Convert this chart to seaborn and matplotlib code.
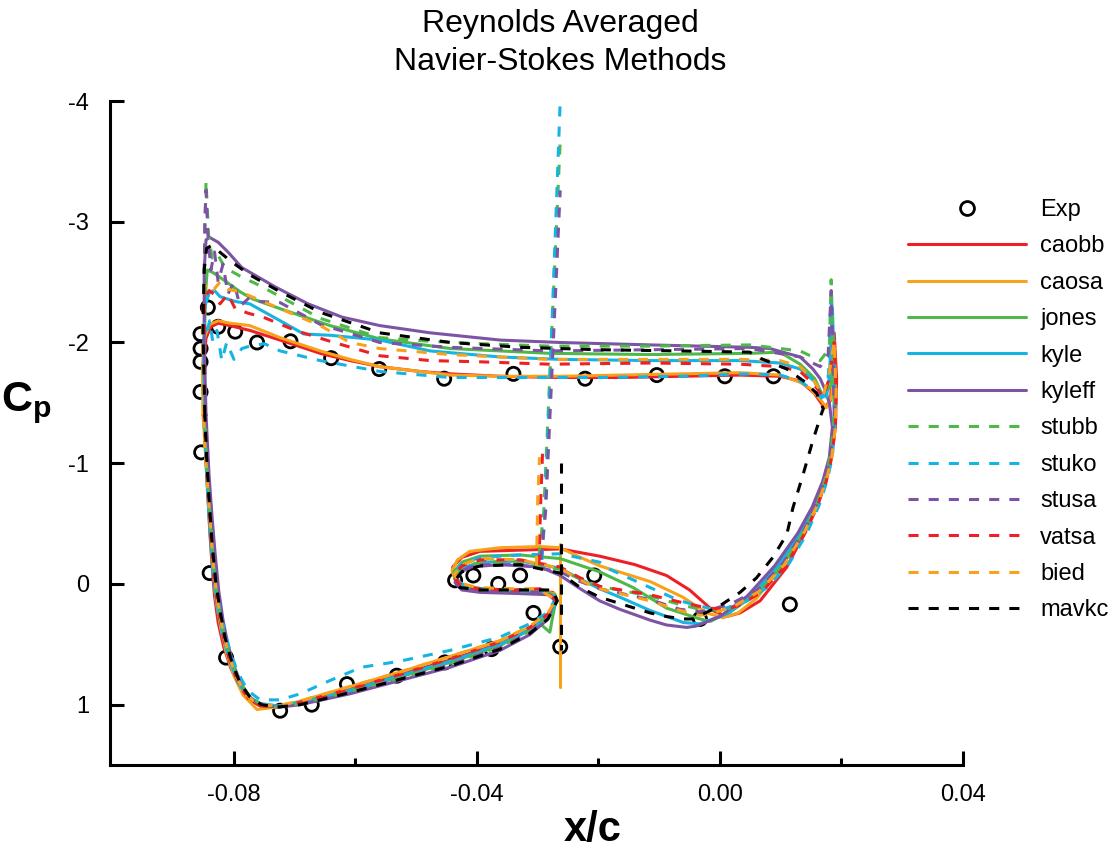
import matplotlib
matplotlib.use('Agg')
import matplotlib.pyplot as plt
from matplotlib.lines import Line2D
from matplotlib import font_manager
import pandas as pd
import seaborn as sns

# --- DATA: (x/c, Cp) pairs ---
exp_pts = [(-0.0843, -2.29), (-0.0855, -2.07), (-0.0855, -1.95), (-0.0855, -1.84), (-0.0855, -1.59),
           (-0.0826, -2.13), (-0.0798, -2.09), (-0.0762, -2.00), (-0.0707, -2.01), (-0.0640, -1.87),
           (-0.0561, -1.78), (-0.0454, -1.70), (-0.0340, -1.74), (-0.0222, -1.70), (-0.0104, -1.73),
           (0.0008, -1.72), (0.0088, -1.72), (-0.0854, -1.09), (-0.0840, -0.09), (-0.0813, 0.61),
           (-0.0724, 1.05), (-0.0672, 1.00), (-0.0614, 0.83), (-0.0532, 0.76), (-0.0453, 0.65),
           (-0.0376, 0.54), (-0.0263, 0.52), (-0.0307, 0.24), (-0.0436, -0.03), (-0.0406, -0.07),
           (-0.0365, 0.00), (-0.0329, -0.07), (-0.0207, -0.07), (-0.0033, 0.29), (0.0115, 0.17)]

caobb = [(-0.0849, -1.40), (-0.0850, -1.80), (-0.0846, -2.04), (-0.0838, -2.13), (-0.0826, -2.16),
         (-0.0807, -2.14), (-0.0774, -2.10), (-0.0724, -2.02), (-0.0658, -1.91), (-0.0609, -1.85),
         (-0.0560, -1.80), (-0.0494, -1.76), (-0.0444, -1.74), (-0.0362, -1.72), (-0.0263, -1.71),
         (-0.0165, -1.71), (-0.0066, -1.72), (0.0033, -1.73), (0.0099, -1.72), (0.0132, -1.68),
         (0.0155, -1.58), (0.0172, -1.46), (0.0182, -1.52), (0.0188, -2.08), (0.0192, -1.70),
         (0.0190, -1.30), (0.0183, -1.05), (0.0173, -0.85), (0.0159, -0.66), (0.0140, -0.43),
         (0.0110, -0.14), (0.0066, 0.14), (0.0033, 0.24), (0.0011, 0.27), (-0.0012, 0.22),
         (-0.0050, 0.05), (-0.0088, -0.07), (-0.0140, -0.16), (-0.0198, -0.23), (-0.0263, -0.29),
         (-0.0329, -0.28), (-0.0395, -0.27), (-0.0425, -0.22), (-0.0440, -0.14), (-0.0436, -0.05),
         (-0.0420, 0.02), (-0.0379, 0.05), (-0.0313, 0.06), (-0.0275, 0.07), (-0.0268, 0.14),
         (-0.0283, 0.26), (-0.0313, 0.37), (-0.0362, 0.49), (-0.0444, 0.63), (-0.0527, 0.75),
         (-0.0609, 0.87), (-0.0691, 0.99), (-0.0728, 1.02), (-0.0757, 1.01), (-0.0775, 0.96),
         (-0.0790, 0.86), (-0.0805, 0.70), (-0.0817, 0.52), (-0.0826, 0.32), (-0.0832, 0.10),
         (-0.0836, -0.15), (-0.0840, -0.45), (-0.0843, -0.75), (-0.0846, -1.05), (-0.0849, -1.40)]

caosa = [(-0.0851, -1.40), (-0.0852, -1.80), (-0.0848, -2.05), (-0.0840, -2.15), (-0.0826, -2.18),
         (-0.0807, -2.16), (-0.0774, -2.14), (-0.0724, -2.04), (-0.0658, -1.93), (-0.0609, -1.86),
         (-0.0560, -1.80), (-0.0494, -1.76), (-0.0444, -1.73), (-0.0362, -1.72), (-0.0263, -1.72),
         (-0.0165, -1.73), (-0.0066, -1.74), (0.0033, -1.75), (0.0099, -1.73), (0.0132, -1.67),
         (0.0148, -1.62), (0.0165, -1.53), (0.0175, -1.46), (0.0184, -1.55), (0.0188, -2.01),
         (0.0190, -1.60), (0.0188, -1.30), (0.0183, -1.05), (0.0173, -0.86), (0.0157, -0.66),
         (0.0135, -0.43), (0.0104, -0.16), (0.0060, 0.12), (0.0030, 0.24), (0.0005, 0.28),
         (-0.0022, 0.24), (-0.0061, 0.11), (-0.0115, -0.02), (-0.0198, -0.15), (-0.0230, -0.22),
         (-0.0263, -0.30), (-0.0296, -0.31), (-0.0362, -0.30), (-0.0412, -0.27), (-0.0432, -0.20),
         (-0.0441, -0.11), (-0.0436, -0.03), (-0.0415, 0.03), (-0.0362, 0.05), (-0.0296, 0.06),
         (-0.0272, 0.08), (-0.0268, 0.14), (-0.0283, 0.25), (-0.0313, 0.36), (-0.0362, 0.47),
         (-0.0444, 0.60), (-0.0527, 0.73), (-0.0609, 0.85), (-0.0691, 0.97), (-0.0730, 1.02),
         (-0.0762, 1.04), (-0.0785, 0.92), (-0.0800, 0.76), (-0.0812, 0.58), (-0.0822, 0.36),
         (-0.0830, 0.12), (-0.0835, -0.15), (-0.0839, -0.45), (-0.0843, -0.80), (-0.0847, -1.10),
         (-0.0851, -1.40)]
caosa_link = [(-0.0263, -0.33), (-0.0263, 0.85)]

jones = [(-0.0848, -1.40), (-0.0849, -1.90), (-0.0847, -2.40), (-0.0844, -2.60), (-0.0835, -2.58),
         (-0.0823, -2.54), (-0.0790, -2.42), (-0.0769, -2.36), (-0.0724, -2.28), (-0.0642, -2.14),
         (-0.0560, -2.03), (-0.0444, -1.95), (-0.0280, -1.91), (-0.0115, -1.90), (0.0049, -1.91),
         (0.0099, -1.92), (0.0112, -1.88), (0.0132, -1.82), (0.0156, -1.70), (0.0170, -1.55),
         (0.0183, -1.65), (0.0188, -1.85), (0.0190, -1.50), (0.0188, -1.25), (0.0181, -1.02),
         (0.0170, -0.84), (0.0155, -0.65), (0.0134, -0.44), (0.0100, -0.17), (0.0060, 0.08),
         (0.0020, 0.22), (-0.0016, 0.31), (-0.0033, 0.29), (-0.0088, 0.20), (-0.0143, 0.03),
         (-0.0198, -0.10), (-0.0263, -0.21), (-0.0329, -0.24), (-0.0395, -0.23), (-0.0425, -0.18),
         (-0.0438, -0.10), (-0.0434, -0.02), (-0.0412, 0.03), (-0.0362, 0.05), (-0.0296, 0.06),
         (-0.0272, 0.09), (-0.0270, 0.14), (-0.0275, 0.26), (-0.0280, 0.40), (-0.0296, 0.33),
         (-0.0313, 0.38), (-0.0362, 0.51), (-0.0444, 0.65), (-0.0527, 0.77), (-0.0609, 0.89),
         (-0.0691, 0.99), (-0.0728, 1.02), (-0.0755, 1.00), (-0.0775, 0.94), (-0.0790, 0.82),
         (-0.0803, 0.66), (-0.0815, 0.46), (-0.0824, 0.24), (-0.0831, 0.00), (-0.0836, -0.30),
         (-0.0841, -0.65), (-0.0845, -1.00), (-0.0848, -1.40)]

kyle = [(-0.0848, -1.40), (-0.0850, -1.90), (-0.0848, -2.30), (-0.0840, -2.42), (-0.0832, -2.43),
        (-0.0823, -2.38), (-0.0798, -2.34), (-0.0774, -2.32), (-0.0724, -2.18), (-0.0685, -2.07),
        (-0.0642, -2.06), (-0.0560, -2.02), (-0.0477, -1.93), (-0.0362, -1.88), (-0.0263, -1.86),
        (-0.0115, -1.85), (0.0033, -1.85), (0.0099, -1.83), (0.0132, -1.78), (0.0155, -1.68),
        (0.0170, -1.55), (0.0180, -1.70), (0.0185, -2.29), (0.0188, -1.80), (0.0189, -1.30),
        (0.0182, -1.05), (0.0171, -0.85), (0.0155, -0.64), (0.0132, -0.42), (0.0095, -0.15),
        (0.0055, 0.08), (0.0015, 0.24), (-0.0033, 0.33), (-0.0060, 0.32), (-0.0115, 0.22),
        (-0.0160, 0.12), (-0.0198, 0.04), (-0.0230, -0.04), (-0.0263, -0.13), (-0.0329, -0.19),
        (-0.0395, -0.18), (-0.0425, -0.13), (-0.0436, -0.06), (-0.0430, 0.01), (-0.0405, 0.05),
        (-0.0362, 0.06), (-0.0296, 0.07), (-0.0272, 0.10), (-0.0268, 0.14), (-0.0280, 0.25),
        (-0.0313, 0.38), (-0.0362, 0.50), (-0.0444, 0.64), (-0.0527, 0.76), (-0.0609, 0.88),
        (-0.0691, 0.98), (-0.0728, 1.01), (-0.0757, 0.99), (-0.0777, 0.93), (-0.0793, 0.82),
        (-0.0807, 0.64), (-0.0818, 0.44), (-0.0827, 0.20), (-0.0834, -0.05), (-0.0839, -0.40),
        (-0.0844, -0.80), (-0.0847, -1.10), (-0.0848, -1.40)]

kyleff = [(-0.0846, -1.40), (-0.0849, -2.00), (-0.0849, -2.60), (-0.0846, -2.85), (-0.0840, -2.87),
          (-0.0826, -2.83), (-0.0810, -2.75), (-0.0787, -2.62), (-0.0732, -2.46), (-0.0678, -2.32),
          (-0.0622, -2.21), (-0.0560, -2.14), (-0.0477, -2.08), (-0.0362, -2.02), (-0.0263, -2.00),
          (-0.0115, -1.98), (0.0049, -1.96), (0.0082, -1.95), (0.0132, -1.88), (0.0153, -1.78),
          (0.0165, -1.70), (0.0172, -1.62), (0.0180, -1.50), (0.0185, -1.30), (0.0180, -1.05),
          (0.0169, -0.85), (0.0152, -0.64), (0.0128, -0.42), (0.0090, -0.15), (0.0045, 0.10),
          (0.0000, 0.27), (-0.0040, 0.35), (-0.0055, 0.36), (-0.0088, 0.34), (-0.0115, 0.30),
          (-0.0165, 0.21), (-0.0198, 0.14), (-0.0230, 0.04), (-0.0263, -0.07), (-0.0296, -0.14),
          (-0.0362, -0.16), (-0.0412, -0.14), (-0.0432, -0.08), (-0.0436, -0.01), (-0.0425, 0.05),
          (-0.0395, 0.07), (-0.0329, 0.08), (-0.0280, 0.09), (-0.0272, 0.14), (-0.0285, 0.30),
          (-0.0313, 0.42), (-0.0362, 0.55), (-0.0444, 0.69), (-0.0527, 0.80), (-0.0609, 0.91),
          (-0.0691, 1.00), (-0.0724, 1.02), (-0.0752, 1.01), (-0.0772, 0.95), (-0.0787, 0.84),
          (-0.0800, 0.68), (-0.0810, 0.50), (-0.0818, 0.30), (-0.0825, 0.06), (-0.0831, -0.25),
          (-0.0836, -0.55), (-0.0841, -0.90), (-0.0846, -1.40)]

stubb = [(-0.0848, -1.40), (-0.0850, -2.30), (-0.0848, -2.90), (-0.0846, -3.34), (-0.0842, -2.90),
         (-0.0836, -2.70), (-0.0828, -2.74), (-0.0815, -2.62), (-0.0790, -2.55), (-0.0757, -2.47),
         (-0.0724, -2.38), (-0.0658, -2.20), (-0.0609, -2.12), (-0.0560, -2.04), (-0.0477, -2.01),
         (-0.0395, -1.99), (-0.0280, -1.97), (-0.0115, -1.97), (0.0049, -1.98), (0.0132, -1.93),
         (0.0165, -1.85), (0.0180, -1.95), (0.0183, -2.52), (0.0186, -2.00), (0.0188, -1.40),
         (0.0183, -1.10), (0.0174, -0.88), (0.0160, -0.66), (0.0140, -0.45), (0.0108, -0.18),
         (0.0068, 0.06), (0.0030, 0.18), (0.0005, 0.22), (-0.0033, 0.21), (-0.0066, 0.17),
         (-0.0115, 0.10), (-0.0198, 0.02), (-0.0230, -0.04), (-0.0263, -0.12), (-0.0329, -0.18),
         (-0.0395, -0.18), (-0.0425, -0.13), (-0.0436, -0.05), (-0.0428, 0.02), (-0.0395, 0.05),
         (-0.0329, 0.06), (-0.0290, 0.05), (-0.0270, 0.12), (-0.0281, 0.26), (-0.0313, 0.39),
         (-0.0362, 0.52), (-0.0444, 0.66), (-0.0527, 0.78), (-0.0609, 0.89), (-0.0691, 0.99),
         (-0.0728, 1.02), (-0.0755, 1.00), (-0.0775, 0.93), (-0.0790, 0.81), (-0.0803, 0.65),
         (-0.0815, 0.45), (-0.0824, 0.22), (-0.0831, -0.02), (-0.0836, -0.32), (-0.0841, -0.68),
         (-0.0845, -1.02), (-0.0848, -1.40)]
stubb_link = [(-0.0298, -0.22), (-0.0290, -0.60), (-0.0263, -3.67)]

stuko = [(-0.0850, -1.40), (-0.0852, -1.90), (-0.0850, -2.20), (-0.0846, -2.05), (-0.0840, -2.18),
         (-0.0835, -2.01), (-0.0828, -2.10), (-0.0820, -1.85), (-0.0812, -2.00), (-0.0800, -1.86),
         (-0.0787, -1.95), (-0.0774, -1.97), (-0.0750, -1.99), (-0.0724, -1.93), (-0.0658, -1.85),
         (-0.0560, -1.76), (-0.0444, -1.71), (-0.0329, -1.71), (-0.0198, -1.71), (-0.0066, -1.72),
         (0.0049, -1.74), (0.0099, -1.73), (0.0132, -1.68), (0.0160, -1.58), (0.0175, -1.50),
         (0.0180, -1.85), (0.0183, -2.35), (0.0187, -1.80), (0.0189, -1.35), (0.0185, -1.05),
         (0.0176, -0.85), (0.0163, -0.65), (0.0143, -0.42), (0.0115, -0.18), (0.0080, 0.02),
         (0.0045, 0.14), (0.0010, 0.20), (-0.0012, 0.21), (-0.0066, 0.14), (-0.0115, 0.03),
         (-0.0181, -0.12), (-0.0198, -0.18), (-0.0263, -0.25), (-0.0329, -0.24), (-0.0395, -0.22),
         (-0.0425, -0.17), (-0.0436, -0.09), (-0.0430, -0.01), (-0.0405, 0.04), (-0.0362, 0.05),
         (-0.0296, 0.05), (-0.0270, 0.12), (-0.0285, 0.24), (-0.0313, 0.33), (-0.0362, 0.44),
         (-0.0444, 0.55), (-0.0527, 0.64), (-0.0590, 0.69), (-0.0642, 0.80), (-0.0691, 0.91),
         (-0.0724, 0.96), (-0.0757, 0.96), (-0.0778, 0.88), (-0.0795, 0.72), (-0.0809, 0.51),
         (-0.0821, 0.28), (-0.0830, 0.02), (-0.0837, -0.35), (-0.0843, -0.75), (-0.0847, -1.10),
         (-0.0850, -1.40)]
stuko_link = [(-0.0293, -0.20), (-0.0288, -0.60), (-0.0263, -4.00)]

stusa = [(-0.0847, -1.40), (-0.0849, -2.40), (-0.0848, -3.00), (-0.0846, -3.26), (-0.0843, -2.90),
         (-0.0838, -2.60), (-0.0832, -2.75), (-0.0826, -2.50), (-0.0818, -2.65), (-0.0810, -2.40),
         (-0.0800, -2.50), (-0.0790, -2.30), (-0.0775, -2.37), (-0.0757, -2.34), (-0.0724, -2.33),
         (-0.0658, -2.15), (-0.0560, -2.00), (-0.0444, -1.96), (-0.0280, -1.93), (-0.0115, -1.94),
         (0.0049, -1.95), (0.0132, -1.88), (0.0165, -1.80), (0.0178, -1.90), (0.0183, -2.43),
         (0.0186, -1.95), (0.0188, -1.40), (0.0182, -1.08), (0.0173, -0.87), (0.0158, -0.65),
         (0.0138, -0.44), (0.0105, -0.18), (0.0062, 0.05), (0.0020, 0.16), (-0.0020, 0.22),
         (-0.0033, 0.23), (-0.0066, 0.21), (-0.0115, 0.13), (-0.0198, 0.04), (-0.0230, -0.02),
         (-0.0263, -0.10), (-0.0329, -0.16), (-0.0395, -0.16), (-0.0425, -0.11), (-0.0436, -0.04),
         (-0.0428, 0.03), (-0.0395, 0.06), (-0.0329, 0.07), (-0.0290, 0.07), (-0.0271, 0.13),
         (-0.0283, 0.28), (-0.0313, 0.40), (-0.0362, 0.53), (-0.0444, 0.67), (-0.0527, 0.79),
         (-0.0609, 0.90), (-0.0691, 0.99), (-0.0728, 1.02), (-0.0753, 1.00), (-0.0773, 0.94),
         (-0.0789, 0.83), (-0.0802, 0.67), (-0.0813, 0.47), (-0.0822, 0.24), (-0.0829, -0.02),
         (-0.0835, -0.32), (-0.0840, -0.70), (-0.0845, -1.05), (-0.0847, -1.40)]
stusa_link = [(-0.0295, -0.20), (-0.0287, -0.60), (-0.0263, -3.26)]

vatsa = [(-0.0849, -1.40), (-0.0850, -2.00), (-0.0848, -2.37), (-0.0841, -2.43), (-0.0833, -2.40),
         (-0.0823, -2.32), (-0.0810, -2.40), (-0.0798, -2.28), (-0.0775, -2.24), (-0.0752, -2.21),
         (-0.0699, -2.10), (-0.0642, -2.01), (-0.0560, -1.89), (-0.0477, -1.85), (-0.0395, -1.84),
         (-0.0280, -1.82), (-0.0115, -1.83), (0.0033, -1.82), (0.0099, -1.80), (0.0132, -1.76),
         (0.0155, -1.65), (0.0170, -1.55), (0.0180, -1.70), (0.0188, -2.00), (0.0191, -1.60),
         (0.0190, -1.30), (0.0184, -1.05), (0.0175, -0.85), (0.0160, -0.64), (0.0140, -0.42),
         (0.0108, -0.15), (0.0068, 0.07), (0.0030, 0.18), (0.0010, 0.21), (-0.0020, 0.20),
         (-0.0066, 0.15), (-0.0115, 0.09), (-0.0198, 0.02), (-0.0230, -0.05), (-0.0263, -0.14),
         (-0.0329, -0.20), (-0.0395, -0.20), (-0.0425, -0.15), (-0.0438, -0.07), (-0.0430, 0.00),
         (-0.0400, 0.04), (-0.0340, 0.05), (-0.0296, 0.04), (-0.0270, 0.13), (-0.0283, 0.25),
         (-0.0313, 0.36), (-0.0362, 0.48), (-0.0444, 0.62), (-0.0527, 0.75), (-0.0609, 0.87),
         (-0.0691, 0.98), (-0.0728, 1.02), (-0.0757, 1.01), (-0.0776, 0.95), (-0.0791, 0.84),
         (-0.0805, 0.67), (-0.0816, 0.47), (-0.0825, 0.24), (-0.0832, 0.00), (-0.0837, -0.30),
         (-0.0842, -0.70), (-0.0846, -1.05), (-0.0849, -1.40)]
vatsa_link = [(-0.0298, -0.16), (-0.0295, -0.70), (-0.0292, -1.10)]

bied = [(-0.0850, -1.40), (-0.0852, -2.10), (-0.0849, -2.46), (-0.0841, -2.49), (-0.0833, -2.44),
        (-0.0823, -2.50), (-0.0810, -2.44), (-0.0790, -2.42), (-0.0757, -2.35), (-0.0724, -2.28),
        (-0.0658, -2.14), (-0.0609, -2.00), (-0.0560, -1.95), (-0.0444, -1.90), (-0.0280, -1.86),
        (-0.0115, -1.86), (0.0033, -1.86), (0.0099, -1.85), (0.0132, -1.80), (0.0155, -1.68),
        (0.0170, -1.56), (0.0180, -1.75), (0.0188, -2.01), (0.0191, -1.60), (0.0190, -1.30),
        (0.0184, -1.05), (0.0175, -0.86), (0.0160, -0.65), (0.0139, -0.43), (0.0106, -0.16),
        (0.0065, 0.06), (0.0025, 0.18), (-0.0010, 0.24), (-0.0033, 0.26), (-0.0066, 0.22),
        (-0.0115, 0.14), (-0.0198, 0.04), (-0.0230, -0.03), (-0.0263, -0.13), (-0.0329, -0.20),
        (-0.0395, -0.21), (-0.0425, -0.16), (-0.0437, -0.08), (-0.0430, -0.01), (-0.0400, 0.03),
        (-0.0340, 0.04), (-0.0300, 0.04), (-0.0270, 0.13), (-0.0283, 0.24), (-0.0313, 0.35),
        (-0.0362, 0.47), (-0.0444, 0.60), (-0.0527, 0.73), (-0.0609, 0.85), (-0.0691, 0.97),
        (-0.0730, 1.01), (-0.0760, 1.00), (-0.0780, 0.92), (-0.0795, 0.78), (-0.0808, 0.60),
        (-0.0818, 0.40), (-0.0827, 0.15), (-0.0834, -0.15), (-0.0839, -0.50), (-0.0844, -0.85),
        (-0.0848, -1.15), (-0.0850, -1.40)]
bied_link = [(-0.0302, -0.15), (-0.0300, -0.70), (-0.0297, -1.05)]

mavkc = [(-0.0848, -1.40), (-0.0851, -2.10), (-0.0849, -2.60), (-0.0845, -2.78), (-0.0838, -2.80),
         (-0.0826, -2.76), (-0.0807, -2.68), (-0.0774, -2.56), (-0.0724, -2.42), (-0.0658, -2.25),
         (-0.0560, -2.08), (-0.0444, -2.00), (-0.0329, -1.96), (-0.0198, -1.94), (-0.0066, -1.93),
         (0.0049, -1.92), (0.0066, -1.87), (0.0110, -1.78), (0.0138, -1.68), (0.0159, -1.58),
         (0.0170, -1.45), (0.0167, -1.41), (0.0153, -1.19), (0.0137, -0.91), (0.0120, -0.63),
         (0.0110, -0.41), (0.0087, -0.22), (0.0060, -0.05), (0.0033, 0.07), (0.0000, 0.18),
         (-0.0044, 0.29), (-0.0061, 0.29), (-0.0088, 0.27), (-0.0115, 0.24), (-0.0160, 0.17),
         (-0.0198, 0.11), (-0.0230, 0.03), (-0.0263, -0.09), (-0.0329, -0.16), (-0.0395, -0.15),
         (-0.0425, -0.10), (-0.0436, -0.03), (-0.0428, 0.03), (-0.0395, 0.05), (-0.0329, 0.05),
         (-0.0275, 0.05), (-0.0268, 0.14), (-0.0283, 0.29), (-0.0313, 0.41), (-0.0362, 0.54),
         (-0.0444, 0.68), (-0.0527, 0.79), (-0.0609, 0.90), (-0.0691, 1.00), (-0.0728, 1.02),
         (-0.0755, 1.00), (-0.0775, 0.93), (-0.0791, 0.81), (-0.0804, 0.64), (-0.0815, 0.44),
         (-0.0823, 0.22), (-0.0830, -0.02), (-0.0836, -0.33), (-0.0841, -0.70), (-0.0845, -1.05),
         (-0.0848, -1.40)]
mavkc_link = [(-0.0262, -1.00), (-0.0262, 0.55)]

x_ticks = [-0.08, -0.04, 0.00, 0.04]
x_tick_labels = ['-0.08', '-0.04', '0.00', '0.04']
x_minor = [-0.06, -0.02, 0.02]
y_ticks = [-4, -3, -2, -1, 0, 1]
y_tick_labels = ['-4', '-3', '-2', '-1', '0', '1']

RED, ORANGE, GREEN, CYAN, PURPLE = '#ee1f25', '#f8a21c', '#4fb848', '#15b4e3', '#7d54a4'
# name, points, extra straight segments, colour, dashed
series = [
    ('caobb', caobb, [], RED, False),
    ('caosa', caosa, [caosa_link], ORANGE, False),
    ('jones', jones, [], GREEN, False),
    ('kyle', kyle, [], CYAN, False),
    ('kyleff', kyleff, [], PURPLE, False),
    ('stubb', stubb, [stubb_link], GREEN, True),
    ('stuko', stuko, [stuko_link], CYAN, True),
    ('stusa', stusa, [stusa_link], PURPLE, True),
    ('vatsa', vatsa, [vatsa_link], RED, True),
    ('bied', bied, [bied_link], ORANGE, True),
    ('mavkc', mavkc, [mavkc_link], 'black', True),
]
DASH = (0, (3.3, 3.3))
LW = 2.2

# --- STYLE ---
sns.set_style('white')
plt.rcParams['font.family'] = ['Liberation Sans', 'DejaVu Sans']
plt.rcParams['text.color'] = 'black'
plt.rcParams['axes.labelcolor'] = 'black'
plt.rcParams['xtick.color'] = 'black'
plt.rcParams['ytick.color'] = 'black'
plt.rcParams['mathtext.fontset'] = 'custom'
plt.rcParams['mathtext.rm'] = 'Liberation Sans'
plt.rcParams['mathtext.bf'] = 'Liberation Sans:bold'
installed = {f.name for f in font_manager.fontManager.ttflist}
narrow = 'Liberation Sans Narrow' if 'Liberation Sans Narrow' in installed else 'Liberation Sans'

fig = plt.figure(figsize=(11.16, 8.49), dpi=100)
ax = fig.add_axes([0.0986, 0.0989, 0.7643, 0.7821])

# experimental points
sns.scatterplot(x=[p[0] for p in exp_pts], y=[p[1] for p in exp_pts], ax=ax, marker='o', s=90,
                color='black', facecolor='none', edgecolor='black', linewidth=2.0, zorder=2)

# CFD curves, one call per method; 'part' splits the separate segments
for name, pts, links, color, dashed in series:
    segs = [pts] + links
    df = pd.concat([pd.DataFrame(s, columns=['x', 'y']).assign(part=i) for i, s in enumerate(segs)],
                   ignore_index=True)
    sns.lineplot(data=df, x='x', y='y', units='part', estimator=None, sort=False, ax=ax,
                 color=color, linestyle=DASH if dashed else '-', linewidth=LW, legend=False, zorder=3)

ax.set_xlim(-0.1004, 0.04)
ax.set_ylim(1.5, -4)
ax.set_xticks(x_ticks)
ax.set_xticklabels(x_tick_labels, family=narrow)
ax.set_xticks(x_minor, minor=True)
ax.set_yticks(y_ticks)
ax.set_yticklabels(y_tick_labels)
ax.tick_params(axis='both', which='both', bottom=True, left=True, top=False, right=False)
ax.tick_params(axis='both', which='major', direction='in', length=10, width=2.2, labelsize=17)
ax.tick_params(axis='x', which='minor', direction='in', length=5, width=2.2)
ax.tick_params(axis='x', which='major', pad=14)
ax.tick_params(axis='y', which='major', pad=15)
for s in ['top', 'right']:
    ax.spines[s].set_visible(False)
for s in ['left', 'bottom']:
    ax.spines[s].set_linewidth(2.2)
    ax.spines[s].set_color('black')

ax.set_xlabel('x/c', fontsize=30, fontweight='bold', family=narrow)
ax.xaxis.set_label_coords(0.566, -0.098)
ax.xaxis.label.set_va('center')
ax.set_ylabel(r'$\mathbf{C_p}$', fontsize=31, rotation=0)
ax.yaxis.set_label_coords(-0.0985, 0.545)
ax.yaxis.label.set_va('center')
ax.yaxis.label.set_ha('center')

fig.text(0.502, 1 - 43 / 849, 'Reynolds Averaged\nNavier-Stokes Methods', ha='center', va='center',
         fontsize=23, linespacing=1.33)

handles = [Line2D([], [], marker='o', ls='none', mfc='none', mec='black', mew=2.0, ms=10)]
handles += [Line2D([], [], color=c, lw=LW, ls=DASH if d else '-') for _, _, _, c, d in series]
labels = ['Exp'] + [n for n, _, _, _, _ in series]
ax.legend(handles, labels, loc='upper left', bbox_to_anchor=(908 / 1116, 1 - 199 / 849),
          bbox_transform=fig.transFigure, frameon=False, fontsize=17, handlelength=5.0,
          handletextpad=0.6, labelspacing=0.61, borderpad=0, borderaxespad=0, numpoints=1)

fig.savefig('out.png', dpi=100)
